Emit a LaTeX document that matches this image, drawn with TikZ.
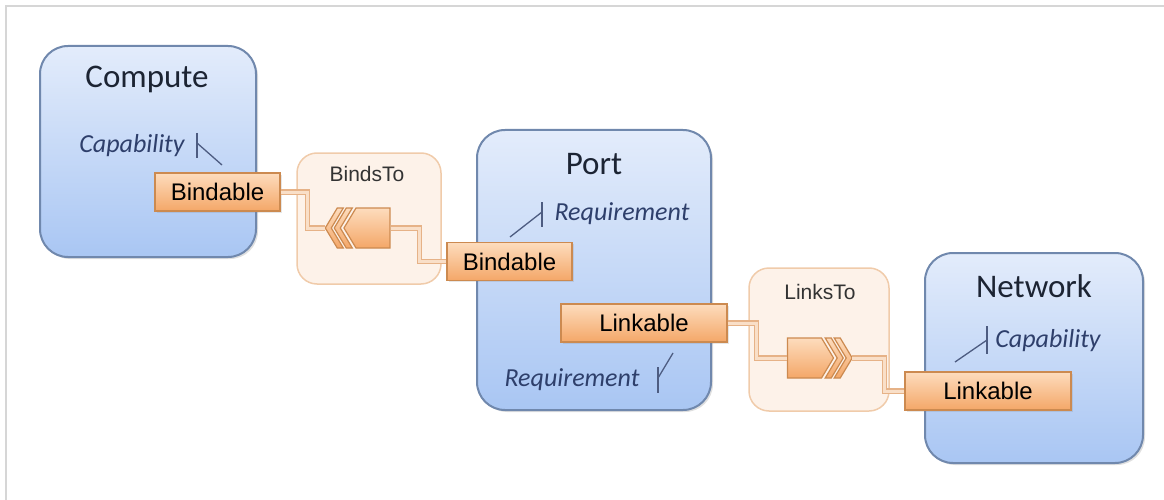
\documentclass[tikz,border=0pt]{standalone}
\usepackage{fontspec}
\setmainfont{Carlito}
\newfontfamily\arialfont{Liberation Sans}
\usetikzlibrary{shapes.symbols, shadows}
\definecolor{boxline}{HTML}{7088AD}
\definecolor{boxtop}{HTML}{E3ECFB}
\definecolor{boxbot}{HTML}{A9C6F3}
\definecolor{titlec}{HTML}{1C2433}
\definecolor{capc}{HTML}{2E3F6B}
\definecolor{featline}{HTML}{CC8A50}
\definecolor{feattop}{HTML}{FDDCBD}
\definecolor{featbot}{HTML}{F4A768}
\definecolor{relfill}{HTML}{FDF2E9}
\definecolor{relline}{HTML}{F0CBAA}
\definecolor{wireedge}{HTML}{E6B287}
\definecolor{wirecore}{HTML}{F9DFC8}
\definecolor{framec}{HTML}{D6D6D6}
\tikzset{
    nodebox/.style={rounded corners=28, draw=boxline, line width=2, top color=boxtop, bottom color=boxbot,
        drop shadow={shadow xshift=2pt, shadow yshift=-2pt, opacity=.25}},
    boxtitle/.style={inner sep=0, text=titlec, font=\fontsize{33}{40}\selectfont},
    captext/.style={inner sep=0, text=capc, font=\itshape\fontsize{26}{31}\selectfont},
    glyph/.style={draw=capc!85, line width=1.3},
    relbox/.style={rounded corners=20, draw=relline, line width=1.5, fill=relfill},
    reltitle/.style={inner sep=0, text=black!80, font=\arialfont\fontsize{21}{25}\selectfont},
    featbox/.style={draw=featline, line width=1.3, top color=feattop, bottom color=featbot, inner sep=0,
        minimum height=38, font=\arialfont\fontsize{24}{28}\selectfont,
        drop shadow={shadow xshift=1.5pt, shadow yshift=-1.5pt, opacity=.2}},
    pentbox/.style={shape=signal, signal pointer angle=118, draw=featline, line width=1.2,
        top color=feattop, bottom color=featbot, inner sep=0, minimum width=46, minimum height=40},
    chev/.style={draw=featline, line width=1.2, top color=feattop, bottom color=featbot},
    wire/.style={draw=wireedge, line width=1.2, double=wirecore, double distance=3},
}
\begin{document}
\begin{tikzpicture}[x=1pt, y=-1pt]
    \useasboundingbox (0, 0) rectangle (1164, 500);
    \draw[framec, line width=2] (6, 500) -- (6, 6) -- (1164, 6);

        \node[relbox, minimum width=144, minimum height=131] (bindsto) at (369, 218.5) {};
            \node[reltitle] (bindstot) at (367, 174) {BindsTo};
        \node[relbox, minimum width=140, minimum height=143] (linksto) at (819, 339.5) {};
            \node[reltitle] (linkstot) at (820, 292) {LinksTo};

        \node[nodebox, minimum width=216, minimum height=211] (compute) at (148, 151.5) {};
            \node[boxtitle] (computet) at (147, 79) {Compute};
            \node[captext] (computec) at (132, 146) {Capability};
                \draw[glyph] (197, 133) -- (197, 158);
                \draw[glyph] (197, 143) -- (222, 165);
        \node[nodebox, minimum width=234, minimum height=280] (port) at (594, 270) {};
            \node[boxtitle] (portt) at (594, 164) {Port};
            \node[captext] (portr) at (622, 214) {Requirement};
                \draw[glyph] (542, 202) -- (542, 227);
                \draw[glyph] (510, 237) -- (542, 212);
            \node[captext] (portq) at (572, 380) {Requirement};
                \draw[glyph] (658, 367) -- (658, 393);
                \draw[glyph] (658, 378) -- (673, 353);
        \node[nodebox, minimum width=218, minimum height=210] (network) at (1034, 358) {};
            \node[boxtitle] (networkt) at (1034, 286) {Network};
            \node[captext] (networkc) at (1048, 341) {Capability};
                \draw[glyph] (987, 326) -- (987, 354);
                \draw[glyph] (955, 362) -- (987, 340);

        \node[featbox, minimum width=125] (cbind) at (217.5, 192) {Bindable};
        \node[featbox, minimum width=125] (pbind) at (509.5, 261.5) {Bindable};
        \node[featbox, minimum width=166] (plink) at (644, 323) {Linkable};
        \node[featbox, minimum width=166] (nlink) at (988, 391) {Linkable};

        \node[pentbox, signal to=west] (bpent) at (373, 228) {};
            \foreach \dx in {9, 18}
                \draw[chev] ([xshift=-\dx]bpent.west) -- ++(12, -20) -- ++(6, 0) -- ++(-12, 20)
                    -- ++(12, 20) -- ++(-6, 0) -- cycle;
            \coordinate (btip) at ([xshift=-18]bpent.west);
        \node[pentbox, signal to=east] (lpent) at (804.5, 358) {};
            \foreach \dx in {9, 18}
                \draw[chev] ([xshift=\dx]lpent.east) -- ++(-12, -20) -- ++(-6, 0) -- ++(12, 20)
                    -- ++(-12, 20) -- ++(6, 0) -- cycle;
            \coordinate (ltip) at ([xshift=18]lpent.east);

        \draw[wire] (cbind.east) -- ++(27, 0) |- (btip);
        \draw[wire] (bpent.east) -- ++(29, 0) |- (pbind.west);
        \draw[wire] (plink.east) -- ++(29, 0) |- (lpent.west);
        \draw[wire] (ltip) -- ++(32, 0) |- (nlink.west);
\end{tikzpicture}
\end{document}
